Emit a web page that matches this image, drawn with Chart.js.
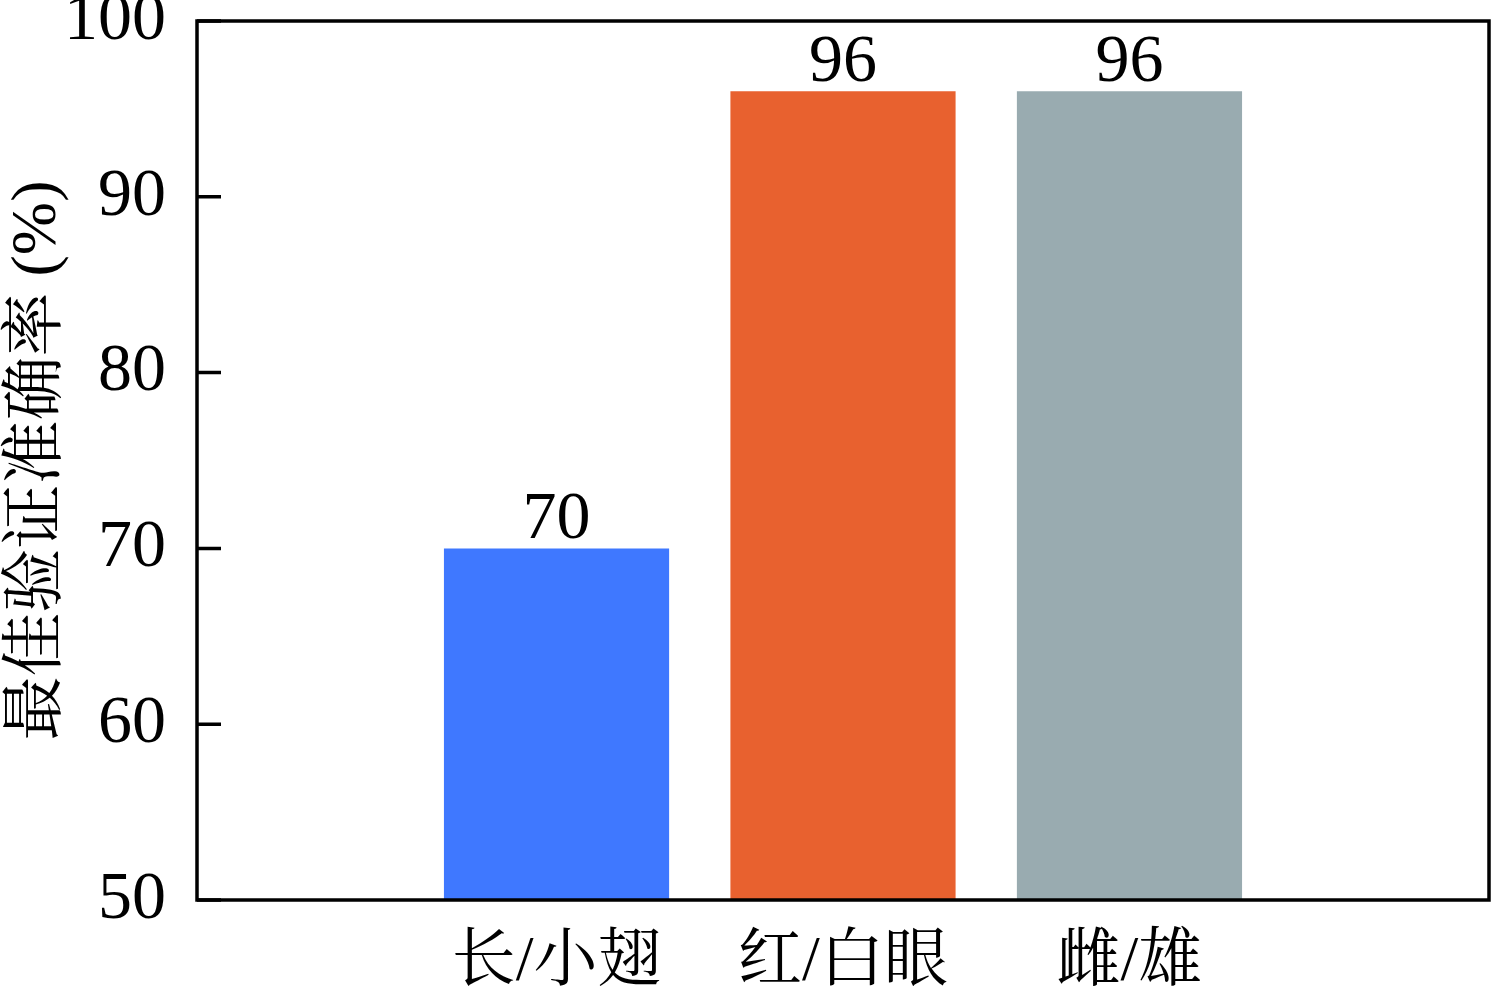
<!DOCTYPE html>
<html>
<head>
<meta charset="utf-8">
<script src="https://cdn.jsdelivr.net/npm/chart.js@4"></script>
<style>
  html, body { margin: 0; padding: 0; background: #fff; }
  #wrap { width: 1493px; height: 993px; }
</style>
</head>
<body>
<div id="wrap"><canvas id="barChart"></canvas></div>
<script>
// chart data
const categories = ['长/小翅', '红/白眼', '雌/雄'];
const accuracy = [70, 96, 96];
const barColors = ['#3F78FF', '#E8612F', '#99ABB0'];
const yTicks = [50, 60, 70, 80, 90, 100];

const FONT = '"Liberation Serif", "Noto Serif CJK SC", serif';

// frame + inward tick marks
const framePlugin = {
    id: 'frame',
    afterDraw(chart) {
        const ctx = chart.ctx;
        const a = chart.chartArea;
        const y = chart.scales.y;
        ctx.save();
        ctx.strokeStyle = '#000';
        ctx.lineWidth = 3.5;
        ctx.strokeRect(a.left, a.top, a.right - a.left, a.bottom - a.top);
        ctx.beginPath();
        yTicks.forEach(v => {
            const py = y.getPixelForValue(v);
            ctx.moveTo(a.left, py);
            ctx.lineTo(a.left + 24, py);
        });
        ctx.stroke();
        ctx.restore();
    }
};

// value labels above bars
const valuePlugin = {
    id: 'values',
    afterDatasetsDraw(chart) {
        const ctx = chart.ctx;
        const meta = chart.getDatasetMeta(0);
        ctx.save();
        ctx.fillStyle = '#000';
        ctx.font = '68px ' + FONT;
        ctx.textAlign = 'center';
        ctx.textBaseline = 'alphabetic';
        meta.data.forEach((bar, i) => {
            ctx.fillText(String(accuracy[i]), bar.x, bar.y - 10);
        });
        ctx.restore();
    }
};

const ctx = document.getElementById('barChart').getContext('2d');
new Chart(ctx, {
    type: 'bar',
    data: {
        datasets: [{
            data: accuracy.map((v, i) => ({ x: i + 1, y: v })),
            backgroundColor: barColors,
            borderWidth: 0,
            categoryPercentage: 1,
            barPercentage: 0.786
        }]
    },
    options: {
        responsive: true,
        maintainAspectRatio: false,
        animation: false,
        layout: { padding: { top: 21, right: 4, left: 0, bottom: 0 } },
        plugins: {
            legend: { display: false },
            tooltip: { enabled: false }
        },
        scales: {
            x: {
                type: 'linear',
                offset: false,
                min: 1 - 1.255,
                max: 3 + 1.255,
                grid: { display: false, drawTicks: false, offset: false },
                border: { display: false },
                afterBuildTicks: scale => {
                    scale.ticks = categories.map((c, i) => ({ value: i + 1 }));
                },
                afterFit: scale => {
                    scale.height = 93;
                    scale.paddingLeft = 0;
                    scale.paddingRight = 0;
                },
                ticks: {
                    autoSkip: false,
                    maxRotation: 0,
                    padding: 25,
                    color: '#000',
                    font: { family: FONT, size: 64 },
                    callback: v => categories[v - 1] || ''
                }
            },
            y: {
                min: 50,
                max: 100,
                grid: { display: false, drawTicks: false },
                border: { display: false },
                afterBuildTicks: scale => {
                    scale.ticks = yTicks.map(v => ({ value: v }));
                },
                afterFit: scale => {
                    scale.width = 197;
                    scale.paddingTop = 0;
                    scale.paddingBottom = 0;
                },
                ticks: {
                    padding: 31,
                    color: '#000',
                    font: { family: FONT, size: 68 }
                },
                title: {
                    display: true,
                    text: '最佳验证准确率 (%)',
                    color: '#000',
                    padding: { top: 0, bottom: 0 },
                    font: { family: FONT, size: 64 }
                }
            }
        }
    },
    plugins: [framePlugin, valuePlugin]
});
</script>
</body>
</html>
